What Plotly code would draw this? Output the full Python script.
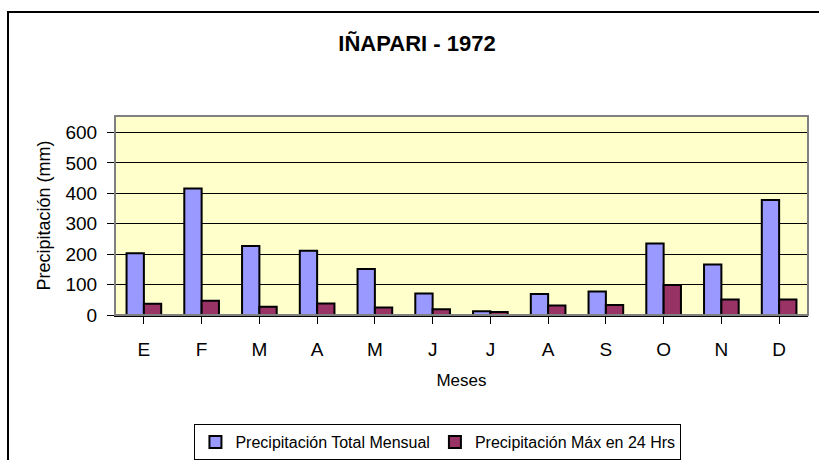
import plotly.graph_objects as go

months = ["E", "F", "M", "A", "M", "J", "J", "A", "S", "O", "N", "D"]
total_mensual = [203, 416, 227, 211, 151, 71, 12, 69, 77, 235, 166, 378]
max_24h = [37, 47, 27, 38, 25, 19, 10, 31, 33, 99, 51, 51]
y_ticks = [0, 100, 200, 300, 400, 500, 600]

x_idx = list(range(len(months)))

FONT = "Liberation Sans, Arial, sans-serif"

fig = go.Figure()
fig.add_trace(go.Bar(
    x=x_idx, y=total_mensual, name="Precipitación Total Mensual",
    marker=dict(color="#9999FF", line=dict(color="black", width=2)),
))
fig.add_trace(go.Bar(
    x=x_idx, y=max_24h, name="Precipitación Máx en 24 Hrs",
    marker=dict(color="#993366", line=dict(color="black", width=2)),
))

fig.update_layout(
    width=819, height=460,
    margin=dict(l=115, r=11, t=116, b=145, autoexpand=False),
    paper_bgcolor="white",
    plot_bgcolor="#FFFFCC",
    barmode="group", bargap=0.4, bargroupgap=0,
    font=dict(family=FONT, color="black", size=18),
    title=dict(
        text="<b>IÑAPARI - 1972</b>",
        font=dict(family=FONT, size=22, color="black"),
        x=417/819, xref="container", xanchor="center",
        y=1 - 43/460, yref="container", yanchor="middle",
        automargin=False,
    ),
    showlegend=True,
    legend=dict(
        orientation="h", x=0.466, xanchor="center", y=-0.548, yanchor="top",
        bgcolor="white", bordercolor="black", borderwidth=1,
        font=dict(family=FONT, size=16, color="black"),
        itemwidth=30, traceorder="normal",
    ),
    xaxis=dict(
        tickmode="array", tickvals=x_idx, ticktext=months,
        range=[-0.5, len(months) - 0.5],
        tickson="boundaries", ticks="outside", ticklen=7, tickcolor="black", tickwidth=1,
        ticklabelstandoff=9,
        showline=True, linecolor="black", linewidth=1.5,
        showgrid=False, zeroline=False, automargin=False,
        tickfont=dict(size=19),
        title=dict(text="Meses", font=dict(size=17), standoff=16),
    ),
    yaxis=dict(
        range=[0, 654],
        tickmode="array", tickvals=y_ticks,
        ticks="outside", ticklen=7, tickcolor="black", tickwidth=1,
        ticklabelstandoff=6,
        showline=True, linecolor="black", linewidth=1,
        showgrid=True, gridcolor="black", gridwidth=1,
        zeroline=False, automargin=False,
        tickfont=dict(size=19),
        title=dict(text="Precipitación (mm)", font=dict(size=18), standoff=10),
    ),
    shapes=[
        dict(type="rect", xref="paper", yref="paper", x0=0, x1=1, y0=0, y1=1,
             line=dict(color="#808080", width=2), fillcolor="rgba(0,0,0,0)", layer="above"),
        dict(type="rect", xref="paper", yref="paper",
             x0=(8 - 115) / 693, x1=(830 - 115) / 693,
             y0=(315 - 470) / 199, y1=(315 - 12) / 199,
             line=dict(color="black", width=2), fillcolor="rgba(0,0,0,0)", layer="above"),
    ],
)

fig.write_html(
    "out.html",
    config={"displayModeBar": False},
    post_script="document.body.style.margin='0';document.body.style.overflow='hidden';",
)
